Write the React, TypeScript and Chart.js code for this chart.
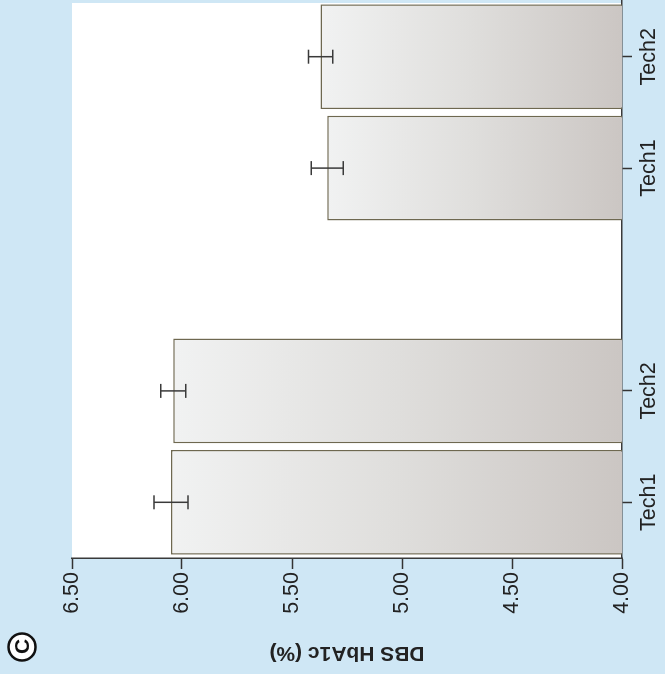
import React, { useEffect, useRef } from "react";
import { Chart, registerables } from "chart.js";

Chart.register(...registerables);

const categories = ["Tech1", "Tech2", "", "Tech1", "Tech2"];
const meanValues = [6.05, 6.04, null, 5.34, 5.37];
const errorValues = [0.077, 0.057, null, 0.073, 0.055];
const yTicks = [4.0, 4.5, 5.0, 5.5, 6.0, 6.5];
const axisTitle = "DBS HbA1c (%)";
const panelLetter = "C";

const BG = "#cfe7f5";
const FONT = "'Liberation Sans', Arial, Helvetica, sans-serif";

export default function App() {
  const ref = useRef<HTMLCanvasElement | null>(null);

  useEffect(() => {
    if (!ref.current) return;
    document.body.style.margin = "0";

    const bgPlugin = {
      id: "plotBg",
      beforeDraw(chart: any) {
        const { ctx, chartArea } = chart;
        if (!chartArea) return;
        ctx.save();
        ctx.fillStyle = "#ffffff";
        ctx.fillRect(chartArea.left, chartArea.top, chartArea.right - chartArea.left - 2, chartArea.bottom - chartArea.top);
        ctx.restore();
      },
    };

    const errorPlugin = {
      id: "errorBars",
      afterDatasetsDraw(chart: any) {
        const { ctx } = chart;
        const meta = chart.getDatasetMeta(0);
        const ys = chart.scales.y;
        ctx.save();
        ctx.strokeStyle = "#3a3a3a";
        ctx.lineWidth = 1.5;
        meta.data.forEach((el: any, i: number) => {
          const v = meanValues[i];
          const e = errorValues[i];
          if (v == null || e == null) return;
          const x = el.x;
          const yt = ys.getPixelForValue(v + e);
          const yb = ys.getPixelForValue(v - e);
          const cap = 7;
          ctx.beginPath();
          ctx.moveTo(x, yt);
          ctx.lineTo(x, yb);
          ctx.moveTo(x - cap, yt);
          ctx.lineTo(x + cap, yt);
          ctx.moveTo(x - cap, yb);
          ctx.lineTo(x + cap, yb);
          ctx.stroke();
        });
        ctx.restore();
      },
    };

    const letterPlugin = {
      id: "panelLetter",
      afterDraw(chart: any) {
        const { ctx } = chart;
        const cx = 27;
        const cy = 22;
        ctx.save();
        ctx.beginPath();
        ctx.arc(cx, cy, 13.5, 0, Math.PI * 2);
        ctx.fillStyle = "#ffffff";
        ctx.fill();
        ctx.lineWidth = 2.5;
        ctx.strokeStyle = "#111111";
        ctx.stroke();
        ctx.fillStyle = "#111111";
        ctx.font = `bold 21px ${FONT}`;
        ctx.textAlign = "center";
        ctx.textBaseline = "middle";
        ctx.fillText(panelLetter, cx + 0.5, cy + 1);
        ctx.restore();
      },
    };

    const chart = new Chart(ref.current, {
      type: "bar",
      data: {
        labels: categories,
        datasets: [
          {
            data: meanValues as any,
            backgroundColor: (c: any) => {
              const chartObj = c.chart;
              const area = chartObj.chartArea;
              const v = c.raw;
              if (!area || v == null || !chartObj.scales.y) return "#e0dfdd";
              const ys = chartObj.scales.y;
              const top = ys.getPixelForValue(v);
              const base = ys.getPixelForValue(4);
              const g = chartObj.ctx.createLinearGradient(0, top, 0, base);
              g.addColorStop(0, "#f1f2f2");
              g.addColorStop(0.5, "#dfdedc");
              g.addColorStop(1, "#cbc6c3");
              return g;
            },
            borderColor: "#6e6850",
            borderWidth: 1.5,
            borderSkipped: false,
            barPercentage: 0.94,
            categoryPercentage: 1,
          },
        ],
      },
      options: {
        animation: false,
        responsive: true,
        maintainAspectRatio: false,
        layout: { padding: { top: 72, right: 1, left: 0, bottom: 0 } },
        plugins: {
          legend: { display: false },
          tooltip: { enabled: false },
        },
        scales: {
          x: {
            type: "category",
            offset: true,
            grid: {
              display: true,
              drawOnChartArea: false,
              drawTicks: true,
              offset: false,
              tickLength: 10,
              tickWidth: 1.5,
              tickColor: (c: any) => (categories[c.index] === "" ? "rgba(0,0,0,0)" : "#333333"),
            },
            border: { display: true, color: "#3a3a3a", width: 1.5 },
            ticks: {
              color: "#222222",
              font: { family: FONT, size: 21.5 },
              padding: 4,
              maxRotation: 0,
              minRotation: 0,
              autoSkip: false,
            },
            afterFit: (s: any) => {
              s.height = 43;
            },
          },
          y: {
            type: "linear",
            min: yTicks[0],
            max: yTicks[yTicks.length - 1],
            afterBuildTicks: (s: any) => {
              s.ticks = yTicks.map((v) => ({ value: v }));
            },
            grid: {
              display: true,
              drawOnChartArea: false,
              drawTicks: true,
              tickLength: 11,
              tickWidth: 1.5,
              tickColor: "#333333",
            },
            border: { display: true, color: "#3a3a3a", width: 1.5 },
            ticks: {
              color: "#222222",
              font: { family: FONT, size: 21.5 },
              padding: 3,
              callback: (v: any) => Number(v).toFixed(2),
            },
            title: {
              display: true,
              text: axisTitle,
              color: "#222222",
              font: { family: FONT, size: 21, weight: "bold" },
              padding: { top: 9, bottom: 0 },
            },
            afterFit: (s: any) => {
              s.width = 116;
            },
          },
        },
      },
      plugins: [bgPlugin, errorPlugin, letterPlugin],
    });

    return () => chart.destroy();
  }, []);

  return (
    <div
      style={{
        position: "fixed",
        left: 0,
        top: 0,
        width: 665,
        height: 674,
        background: BG,
        overflow: "hidden",
      }}
    >
      <div
        style={{
          position: "absolute",
          left: 0,
          top: 0,
          width: 674,
          height: 665,
          transformOrigin: "0 0",
          transform: "translateY(674px) rotate(-90deg)",
        }}
      >
        <canvas ref={ref} />
      </div>
    </div>
  );
}
